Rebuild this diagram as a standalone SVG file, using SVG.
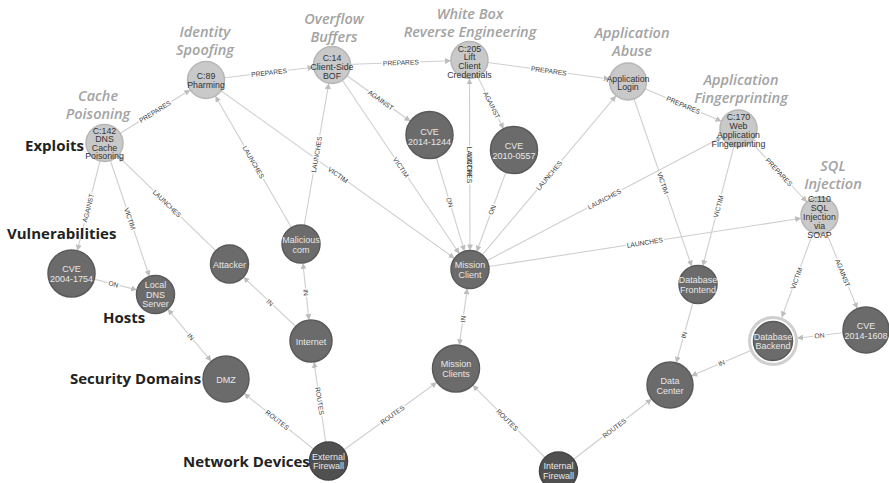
<svg xmlns="http://www.w3.org/2000/svg" width="889" height="483" viewBox="0 0 889 483">
<style>
.e{stroke:#cfcfcf;stroke-width:1.1;fill:none;marker-end:url(#arr)}
.b{marker-start:url(#arrs)}
.lb{font-family:"Liberation Sans",Arial,sans-serif;font-size:6.7px;fill:#3a3a3a;stroke:#fff;stroke-width:3;paint-order:stroke;text-anchor:middle;dominant-baseline:central}
.ex circle{fill:#c9c9c9;stroke:#b6b6b6;stroke-width:1.5}
.ex text{font-family:"Liberation Sans",Arial,sans-serif;font-size:8.8px;fill:#333;text-anchor:middle;dominant-baseline:central}
.dk circle{fill:#6b6b6b;stroke:#5a5a5a;stroke-width:1.5}
.dk text{font-family:"Liberation Sans",Arial,sans-serif;font-size:9px;fill:#e8e8e8;text-anchor:middle;dominant-baseline:central}
.fw circle{fill:#505050;stroke:#444}
.cat{font-family:"Open Sans",sans-serif;font-style:italic;font-weight:600;font-size:14.5px;fill:#a3a3a3;text-anchor:middle}
.leg{font-family:"Open Sans",sans-serif;font-weight:700;font-size:15px;fill:#222}
</style>
<defs>
<marker id="arr" viewBox="0 0 10 10" refX="10" refY="5" markerWidth="6" markerHeight="6" orient="auto" markerUnits="userSpaceOnUse"><path d="M0,0 L10,5 L0,10 z" fill="#bdbdbd"/></marker>
<marker id="arrs" viewBox="0 0 10 10" refX="10" refY="5" markerWidth="6" markerHeight="6" orient="auto-start-reverse" markerUnits="userSpaceOnUse"><path d="M0,0 L10,5 L0,10 z" fill="#bdbdbd"/></marker>
</defs>
<rect width="889" height="483" fill="#fff"/>

<g id="edges">
<line class="e" x1="104.5" y1="143" x2="190.3" y2="89.8"/>
<line class="e" x1="206" y1="80" x2="313.6" y2="67.2"/>
<line class="e" x1="332" y1="65" x2="451" y2="60.7"/>
<line class="e" x1="469.5" y1="60" x2="609.7" y2="79"/>
<line class="e" x1="628" y1="81.5" x2="721.5" y2="121.3"/>
<line class="e" x1="738.5" y1="128.5" x2="806.9" y2="202"/>
<line class="e" x1="104.5" y1="143" x2="77.3" y2="250.7"/>
<line class="e" x1="104.5" y1="143" x2="149.4" y2="276.5"/>
<line class="e" x1="229.5" y1="264" x2="117.8" y2="155.9"/>
<line class="e" x1="71.5" y1="273.5" x2="137.1" y2="289.9"/>
<line class="e b" x1="167.7" y1="309.1" x2="211.3" y2="361.3"/>
<line class="e" x1="311" y1="341" x2="243.3" y2="277"/>
<line class="e b" x1="302.9" y1="262.9" x2="308.9" y2="320.1"/>
<line class="e" x1="301" y1="244" x2="215.3" y2="96"/>
<line class="e" x1="301" y1="244" x2="328.8" y2="83.2"/>
<line class="e" x1="206" y1="80" x2="454.6" y2="258.4"/>
<line class="e" x1="332" y1="65" x2="410.4" y2="121.3"/>
<line class="e" x1="332" y1="65" x2="459.4" y2="253.8"/>
<line class="e" x1="429.5" y1="135" x2="464.5" y2="251.3"/>
<line class="e b" x1="469.5" y1="78.5" x2="470" y2="250.5"/>
<line class="e" x1="469.5" y1="60" x2="503.6" y2="128.9"/>
<line class="e" x1="514" y1="150" x2="476.6" y2="251.7"/>
<line class="e" x1="470" y1="269.5" x2="616.1" y2="95.7"/>
<line class="e" x1="470" y1="269.5" x2="722.1" y2="137.1"/>
<line class="e" x1="470" y1="269.5" x2="801.2" y2="218.3"/>
<line class="e" x1="628" y1="81.5" x2="691.8" y2="266.5"/>
<line class="e" x1="738.5" y1="128.5" x2="702.8" y2="266.1"/>
<line class="e" x1="819.5" y1="215.5" x2="781.7" y2="317.5"/>
<line class="e" x1="819.5" y1="215.5" x2="857.4" y2="308.7"/>
<line class="e" x1="866" y1="330" x2="797" y2="338.2"/>
<line class="e" x1="698" y1="284.5" x2="676.2" y2="362.8"/>
<line class="e" x1="773" y1="341" x2="691.2" y2="376"/>
<line class="e" x1="558.5" y1="471" x2="651.8" y2="399"/>
<line class="e" x1="558.5" y1="471" x2="472.6" y2="385.1"/>
<line class="e" x1="328.5" y1="461" x2="437" y2="382.3"/>
<line class="e" x1="328.5" y1="461" x2="314" y2="361.8"/>
<line class="e" x1="328.5" y1="461" x2="244" y2="393.4"/>
<line class="e b" x1="467.3" y1="288.3" x2="459.3" y2="345.2"/>

<text class="lb" transform="translate(155,111.5) rotate(-31.8)">PREPARES</text>
<text class="lb" transform="translate(269,72.5) rotate(-6.8)">PREPARES</text>
<text class="lb" transform="translate(400.8,62.5) rotate(-2.1)">PREPARES</text>
<text class="lb" transform="translate(548.8,70.8) rotate(7.7)">PREPARES</text>
<text class="lb" transform="translate(683.3,105) rotate(23)">PREPARES</text>
<text class="lb" transform="translate(779,172) rotate(47)">PREPARES</text>
<text class="lb" transform="translate(88,208) rotate(-75.8)">AGAINST</text>
<text class="lb" transform="translate(130,218.8) rotate(71.4)">VICTIM</text>
<text class="lb" transform="translate(167,203.5) rotate(44)">LAUNCHES</text>
<text class="lb" transform="translate(113.5,284) rotate(14)">ON</text>
<text class="lb" transform="translate(190.8,336.8) rotate(50)">IN</text>
<text class="lb" transform="translate(270,302.5) rotate(43.4)">IN</text>
<text class="lb" transform="translate(306,292.5) rotate(84)">IN</text>
<text class="lb" transform="translate(253.5,162) rotate(59.9)">LAUNCHES</text>
<text class="lb" transform="translate(316.5,154.5) rotate(-80.2)">LAUNCHES</text>
<text class="lb" transform="translate(338,174.8) rotate(35.7)">VICTIM</text>
<text class="lb" transform="translate(380.8,100) rotate(35.7)">AGAINST</text>
<text class="lb" transform="translate(401,167.3) rotate(56)">VICTIM</text>
<text class="lb" transform="translate(449.8,202.3) rotate(73.2)">ON</text>
<text class="lb" transform="translate(469.8,165) rotate(90)">LAUNCHES</text>
<text class="lb" transform="translate(469.8,165) rotate(90)" style="stroke:none">VICTIM</text>
<text class="lb" transform="translate(491.8,105) rotate(63.7)">AGAINST</text>
<text class="lb" transform="translate(492,209.8) rotate(-69.8)">ON</text>
<text class="lb" transform="translate(549,175.5) rotate(-50)">LAUNCHES</text>
<text class="lb" transform="translate(604.3,199) rotate(-27.7)">LAUNCHES</text>
<text class="lb" transform="translate(644.8,242.5) rotate(-8.8)">LAUNCHES</text>
<text class="lb" transform="translate(663,183) rotate(71)">VICTIM</text>
<text class="lb" transform="translate(718.3,206.5) rotate(-75.4)">VICTIM</text>
<text class="lb" transform="translate(796.3,278.3) rotate(-69.7)">VICTIM</text>
<text class="lb" transform="translate(842.8,272.8) rotate(67.9)">AGAINST</text>
<text class="lb" transform="translate(819.5,335.5) rotate(-6.7)">ON</text>
<text class="lb" transform="translate(684,334.8) rotate(-74.4)">IN</text>
<text class="lb" transform="translate(721.5,363) rotate(-23.1)">IN</text>
<text class="lb" transform="translate(614.3,428) rotate(-37.6)">ROUTES</text>
<text class="lb" transform="translate(507.3,419.8) rotate(45)">ROUTES</text>
<text class="lb" transform="translate(392.3,414.8) rotate(-36)">ROUTES</text>
<text class="lb" transform="translate(319.8,401) rotate(81.7)">ROUTES</text>
<text class="lb" transform="translate(277.3,420) rotate(38.7)">ROUTES</text>
<text class="lb" transform="translate(463,319) rotate(-82)">IN</text>
</g>

<g id="n-c142" class="ex"><circle cx="104.5" cy="143" r="18.5"/><text><tspan x="104.5" y="130.5">C:142</tspan><tspan x="104.5" y="139">DNS</tspan><tspan x="104.5" y="147.5">Cache</tspan><tspan x="104.5" y="156">Poisoning</tspan></text></g>
<g id="n-c89" class="ex"><circle cx="206" cy="80" r="18.5"/><text><tspan x="206" y="76">C:89</tspan><tspan x="206" y="85">Pharming</tspan></text></g>
<g id="n-c14" class="ex"><circle cx="332" cy="65" r="18.5"/><text><tspan x="332" y="58">C:14</tspan><tspan x="332" y="67">Client-Side</tspan><tspan x="332" y="76">BOF</tspan></text></g>
<g id="n-c205" class="ex"><circle cx="469.5" cy="60" r="18.5"/><text><tspan x="469.5" y="48.5">C:205</tspan><tspan x="469.5" y="57">Lift</tspan><tspan x="469.5" y="65.5">Client</tspan><tspan x="469.5" y="74.5">Credentials</tspan></text></g>
<g id="n-applogin" class="ex"><circle cx="628" cy="81.5" r="18.5"/><text><tspan x="628" y="78.5">Application</tspan><tspan x="628" y="87">Login</tspan></text></g>
<g id="n-c170" class="ex"><circle cx="738.5" cy="128.5" r="18.5"/><text><tspan x="738.5" y="117">C:170</tspan><tspan x="738.5" y="126">Web</tspan><tspan x="738.5" y="135">Application</tspan><tspan x="738.5" y="144">Fingerprinting</tspan></text></g>
<g id="n-c110" class="ex"><circle cx="819.5" cy="215.5" r="18.5"/><text><tspan x="819.5" y="199">C:110</tspan><tspan x="819.5" y="208">SQL</tspan><tspan x="819.5" y="217">Injection</tspan><tspan x="819.5" y="226">via</tspan><tspan x="819.5" y="234.5">SOAP</tspan></text></g>

<g id="n-cve1244" class="dk"><circle cx="429.5" cy="135" r="23.5"/><text><tspan x="429.5" y="131.5">CVE</tspan><tspan x="429.5" y="141.5">2014-1244</tspan></text></g>
<g id="n-cve0557" class="dk"><circle cx="514" cy="150" r="23.5"/><text><tspan x="514" y="146">CVE</tspan><tspan x="514" y="156">2010-0557</tspan></text></g>
<g id="n-cve1754" class="dk"><circle cx="71.5" cy="273.5" r="23.5"/><text><tspan x="71.5" y="269">CVE</tspan><tspan x="71.5" y="279">2004-1754</tspan></text></g>
<g id="n-localdns" class="dk"><circle cx="155.5" cy="294.5" r="19"/><text><tspan x="155.5" y="285">Local</tspan><tspan x="155.5" y="294.5">DNS</tspan><tspan x="155.5" y="304">Server</tspan></text></g>
<g id="n-attacker" class="dk"><circle cx="229.5" cy="264" r="19"/><text x="229.5" y="264.5">Attacker</text></g>
<g id="n-malicious" class="dk"><circle cx="301" cy="244" r="19"/><text><tspan x="301" y="240">Malicious</tspan><tspan x="301" y="249.5">com</tspan></text></g>
<g id="n-missionclient" class="dk"><circle cx="470" cy="269.5" r="19"/><text><tspan x="470" y="265">Mission</tspan><tspan x="470" y="275">Client</tspan></text></g>
<g id="n-internet" class="dk"><circle cx="311" cy="341" r="21"/><text x="311" y="341.5">Internet</text></g>
<g id="n-missionclients" class="dk"><circle cx="456" cy="368.5" r="23.5"/><text><tspan x="456" y="364">Mission</tspan><tspan x="456" y="373.5">Clients</tspan></text></g>
<g id="n-dmz" class="dk"><circle cx="226" cy="379" r="23"/><text x="226" y="379.5">DMZ</text></g>
<g id="n-extfw" class="dk fw"><circle cx="328.5" cy="461" r="19"/><text><tspan x="328.5" y="456.5">External</tspan><tspan x="328.5" y="466">Firewall</tspan></text></g>
<g id="n-intfw" class="dk fw"><circle cx="558.5" cy="471" r="19"/><text><tspan x="558.5" y="466">Internal</tspan><tspan x="558.5" y="475.5">Firewall</tspan></text></g>
<g id="n-dbfrontend" class="dk"><circle cx="698" cy="284.5" r="19"/><text><tspan x="698" y="280">Database</tspan><tspan x="698" y="289.5">Frontend</tspan></text></g>
<g id="n-datacenter" class="dk"><circle cx="670" cy="385" r="23"/><text><tspan x="670" y="381">Data</tspan><tspan x="670" y="390.5">Center</tspan></text></g>
<g id="n-dbbackend" class="dk"><circle cx="773" cy="341" r="23.5" style="fill:#fff;stroke:#cfcfcf;stroke-width:3"/><circle cx="773" cy="341" r="19.5"/><text><tspan x="773" y="336.5">Database</tspan><tspan x="773" y="346">Backend</tspan></text></g>
<g id="n-cve1608" class="dk"><circle cx="866" cy="330" r="23"/><text><tspan x="866" y="325.5">CVE</tspan><tspan x="866" y="335.5">2014-1608</tspan></text></g>

<g id="categories">
<text class="cat"><tspan x="98" y="100.5">Cache</tspan><tspan x="98" y="118.5">Poisoning</tspan></text>
<text class="cat"><tspan x="205" y="36.5">Identity</tspan><tspan x="205" y="54.5">Spoofing</tspan></text>
<text class="cat"><tspan x="334" y="24">Overflow</tspan><tspan x="334" y="42">Buffers</tspan></text>
<text class="cat"><tspan x="470" y="18.5">White Box</tspan><tspan x="470" y="36.5">Reverse Engineering</tspan></text>
<text class="cat"><tspan x="632" y="38">Application</tspan><tspan x="632" y="56">Abuse</tspan></text>
<text class="cat"><tspan x="741" y="84.5">Application</tspan><tspan x="741" y="102.5">Fingerprinting</tspan></text>
<text class="cat"><tspan x="833" y="171">SQL</tspan><tspan x="833" y="189">Injection</tspan></text>
</g>
<g id="legend">
<text class="leg" x="25" y="151">Exploits</text>
<text class="leg" x="7" y="239">Vulnerabilities</text>
<text class="leg" x="103" y="323">Hosts</text>
<text class="leg" x="70" y="384">Security Domains</text>
<text class="leg" x="183" y="467">Network Devices</text>
</g>
</svg>
